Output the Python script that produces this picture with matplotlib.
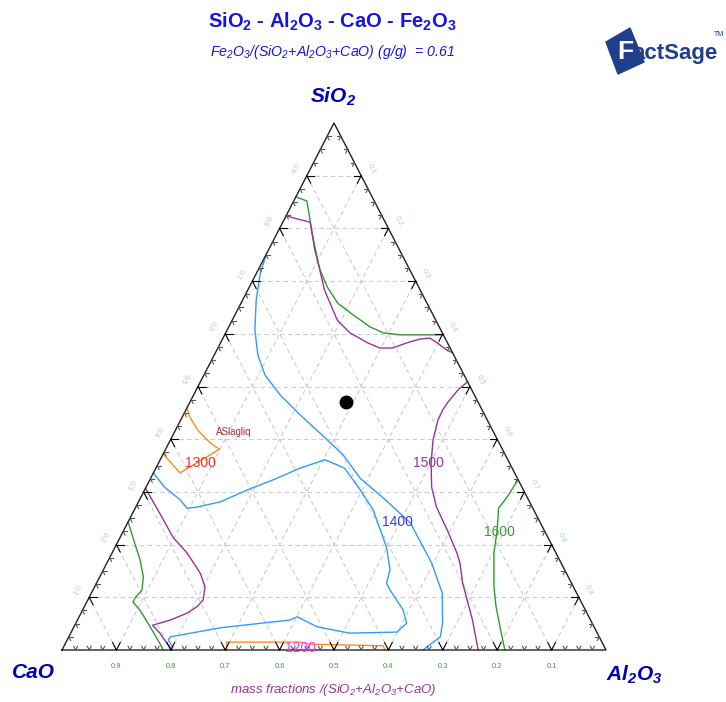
import numpy as np
import matplotlib.pyplot as plt
from matplotlib.patches import Polygon

plt.rcParams['font.family'] = ['Liberation Sans', 'DejaVu Sans']
plt.rcParams['mathtext.default'] = 'regular'

# mass fractions: (SiO2, Al2O3), CaO = 1 - both
t1600_top_sio2 = [0.860, 0.852, 0.816, 0.759, 0.721, 0.689, 0.658, 0.636, 0.613, 0.602, 0.598, 0.598]
t1600_top_al2o3 = [0.000, 0.024, 0.048, 0.085, 0.114, 0.143, 0.178, 0.217, 0.260, 0.289, 0.322, 0.402]
t1600_right_sio2 = [0.323, 0.290, 0.269, 0.228, 0.184, 0.120, 0.085, 0.047, 0.000]
t1600_right_al2o3 = [0.677, 0.673, 0.668, 0.686, 0.702, 0.734, 0.755, 0.781, 0.814]
t1600_left_sio2 = [0.243, 0.203, 0.171, 0.139, 0.114, 0.099, 0.091, 0.076, 0.044, 0.013, 0.000]
t1600_left_al2o3 = [0.000, 0.032, 0.058, 0.080, 0.090, 0.085, 0.085, 0.105, 0.140, 0.173, 0.186]

t1500_top_sio2 = [0.824, 0.818, 0.812, 0.784, 0.734, 0.683, 0.626, 0.602, 0.583, 0.573, 0.573,
                  0.583, 0.590, 0.592, 0.583, 0.569, 0.564]
t1500_top_al2o3 = [0.000, 0.023, 0.050, 0.069, 0.104, 0.141, 0.193, 0.228, 0.270, 0.298, 0.321,
                   0.343, 0.363, 0.380, 0.398, 0.423, 0.436]
t1500_right_sio2 = [0.509, 0.493, 0.469, 0.455, 0.436, 0.398, 0.355, 0.309, 0.271, 0.228, 0.184,
                    0.165, 0.127, 0.057, 0.000]
t1500_right_al2o3 = [0.491, 0.481, 0.474, 0.472, 0.473, 0.483, 0.501, 0.525, 0.553, 0.594, 0.634,
                     0.649, 0.673, 0.726, 0.765]
t1500_left_sio2 = [0.307, 0.285, 0.247, 0.214, 0.184, 0.146, 0.120, 0.095, 0.082, 0.070, 0.057,
                   0.047, 0.032, 0.013, 0.000]
t1500_left_al2o3 = [0.000, 0.023, 0.063, 0.097, 0.138, 0.181, 0.203, 0.212, 0.207, 0.195, 0.171,
                    0.143, 0.164, 0.186, 0.202]

t1400_outer_sio2 = [0.750, 0.712, 0.664, 0.607, 0.560, 0.522, 0.484, 0.446, 0.408, 0.370, 0.326,
                    0.285, 0.241, 0.165, 0.108, 0.051, 0.025, 0.006, 0.000]
t1400_outer_al2o3 = [0.000, 0.008, 0.025, 0.051, 0.080, 0.112, 0.159, 0.215, 0.274, 0.332, 0.385,
                     0.452, 0.520, 0.597, 0.645, 0.674, 0.683, 0.668, 0.664]
t1400_inner_sio2 = [0.336, 0.309, 0.285, 0.269, 0.271, 0.281, 0.306, 0.323, 0.345, 0.361, 0.345,
                    0.304, 0.266, 0.195, 0.152, 0.127, 0.114, 0.076, 0.051, 0.034, 0.032, 0.044,
                    0.063, 0.057, 0.042, 0.025, 0.019, 0.004]
t1400_inner_al2o3 = [0.000, 0.034, 0.075, 0.095, 0.112, 0.150, 0.193, 0.227, 0.265, 0.303, 0.347,
                     0.396, 0.439, 0.499, 0.527, 0.533, 0.546, 0.589, 0.608, 0.599, 0.513, 0.447,
                     0.401, 0.391, 0.269, 0.187, 0.186, 0.202]

t1300_sio2 = [0.459, 0.442, 0.417, 0.393, 0.381, 0.336, 0.372]
t1300_al2o3 = [0.000, 0.014, 0.041, 0.076, 0.099, 0.049, 0.000]
t1200_sio2 = [0.000, 0.015, 0.015, 0.011, 0.008, 0.000]
t1200_al2o3 = [0.303, 0.295, 0.430, 0.450, 0.586, 0.594]

point_sio2, point_al2o3 = 0.471, 0.287

labels = ['1600', '1500', '1400', '1300', '1200']
label_sio2 = [0.224, 0.355, 0.243, 0.355, 0.004]
label_al2o3 = [0.693, 0.496, 0.496, 0.077, 0.437]
label_colors = ['#3a9a3a', '#993399', '#2f3fe8', '#ff2a2a', '#ff33ff']

tick_values = [0.1, 0.2, 0.3, 0.4, 0.5, 0.6, 0.7, 0.8, 0.9]


def to_xy(sio2, al2o3):
    s = np.asarray(sio2, dtype=float)
    a = np.asarray(al2o3, dtype=float)
    return a + s / 2, s


W, H = 726, 702
fig = plt.figure(figsize=(W / 100, H / 100), dpi=100)
ax = fig.add_axes([0, 0, 1, 1])
# triangle base spans 544 px from x=62, height 527 px above y=650
ax.set_xlim(-62 / 544, (W - 62) / 544)
ax.set_ylim(-(H - 650) / 527, 650 / 527)
ax.axis('off')

# grid
gc = '#cccccc'
for v in tick_values:
    ax.plot([v / 2, 1 - v / 2], [v, v], color=gc, lw=0.8, dashes=(4, 3), zorder=1)
    ax.plot([v, v + (1 - v) / 2], [0, 1 - v], color=gc, lw=0.8, dashes=(4, 3), zorder=1)
    ax.plot([1 - v, (1 - v) / 2], [0, 1 - v], color=gc, lw=0.8, dashes=(4, 3), zorder=1)

# frame
ax.plot([0, 1, 0.5, 0], [0, 0, 1, 0], color='#222222', lw=1.0, zorder=3)

# ticks
for i in range(1, 40):
    t = i * 0.025
    L = 0.014 if i % 4 == 0 else 0.007
    col = 'black' if i % 4 == 0 else '#555555'
    # bottom
    for dx, dy in [(0.5, 1), (-0.5, 1)]:
        ax.plot([t, t + dx * L], [0, dy * L], color=col, lw=0.8, zorder=3)
    # left
    for dx, dy in [(1, 0), (0.5, -1)]:
        ax.plot([t / 2, t / 2 + dx * L], [t, t + dy * L], color=col, lw=0.8, zorder=3)
    # right
    for dx, dy in [(-1, 0), (-0.5, -1)]:
        ax.plot([1 - t / 2, 1 - t / 2 + dx * L], [t, t + dy * L], color=col, lw=0.8, zorder=3)

# tick labels
for v in tick_values:
    ax.text(1 - v, -16 / 527, f'{v:.1f}', color='#3a9a3a', fontsize=5.5, ha='center', va='center')
    ax.text(v / 2 - 14 / 544, v + 8 / 527, f'{v:.1f}', color='#a8d8a8', fontsize=5.5,
            ha='center', va='center', rotation=-117)
    ax.text(1 - (1 - v) / 2 + 10 / 544, (1 - v) + 7 / 527, f'{v:.1f}', color='#a8d8a8',
            fontsize=5.5, ha='center', va='center', rotation=-63)

# isotherms
green, purple, blue, orange = '#2e9b2e', '#993399', '#3399ff', '#ff8c1a'
for xs, ys, c in [
    (t1600_top_sio2, t1600_top_al2o3, green),
    (t1600_right_sio2, t1600_right_al2o3, green),
    (t1600_left_sio2, t1600_left_al2o3, green),
    (t1500_top_sio2, t1500_top_al2o3, purple),
    (t1500_right_sio2, t1500_right_al2o3, purple),
    (t1500_left_sio2, t1500_left_al2o3, purple),
    (t1400_outer_sio2, t1400_outer_al2o3, blue),
    (t1400_inner_sio2, t1400_inner_al2o3, blue),
    (t1300_sio2, t1300_al2o3, orange),
    (t1200_sio2, t1200_al2o3, orange),
]:
    X, Y = to_xy(xs, ys)
    ax.plot(X, Y, color=c, lw=1.0, zorder=2)

for lab, s, a, c in zip(labels, label_sio2, label_al2o3, label_colors):
    X, Y = to_xy(s, a)
    ax.text(X, Y, lab, color=c, fontsize=10, ha='center', va='center', zorder=4)

X, Y = to_xy(0.414, 0.109)
ax.text(X, Y, 'ASlagliq', color='#a03030', fontsize=7, ha='center', va='center')

X, Y = to_xy(point_sio2, point_al2o3)
ax.plot(X, Y, 'o', color='black', markersize=9, zorder=5)

# titles and corner labels
def ft(x, y, s, **kw):
    fig.text(x / W, 1 - y / H, s, ha='center', va='center', **kw)

ft(332, 22, 'SiO$_2$ - Al$_2$O$_3$ - CaO - Fe$_2$O$_3$', fontsize=14.5, fontweight='bold', color='#1414e6')
ft(332, 52, 'Fe$_2$O$_3$/(SiO$_2$+Al$_2$O$_3$+CaO) (g/g)  = 0.61', fontsize=10.2,
   style='italic', color='#1414e6')
ft(333, 97, 'SiO$_2$', fontsize=15, fontweight='bold', style='italic', color='#0000b4')
ft(33, 672, 'CaO', fontsize=15, fontweight='bold', style='italic', color='#0000b4')
ft(634, 675, 'Al$_2$O$_3$', fontsize=15, fontweight='bold', style='italic', color='#0000b4')
ft(333, 690, 'mass fractions /(SiO$_2$+Al$_2$O$_3$+CaO)', fontsize=9.5, style='italic',
   color='#993399')

# FactSage logo
lax = fig.add_axes([604 / W, 1 - 78 / H, 122 / W, 58 / H])
lax.set_xlim(0, 122)
lax.set_ylim(58, 0)
lax.axis('off')
lax.add_patch(Polygon([[2, 22], [26, 8], [40, 42], [14, 54]], closed=True, color='#1f3f8a'))
lax.text(13, 32, 'F', fontsize=19, fontweight='bold', color='white', va='center', ha='left')
lax.text(28, 34, 'actSage', fontsize=16, fontweight='bold', color='#1f3f8a', va='center', ha='left')
lax.text(115, 14, 'TM', fontsize=5, color='#1f3f8a', va='center', ha='center')

fig.savefig('out.png', dpi=100)
